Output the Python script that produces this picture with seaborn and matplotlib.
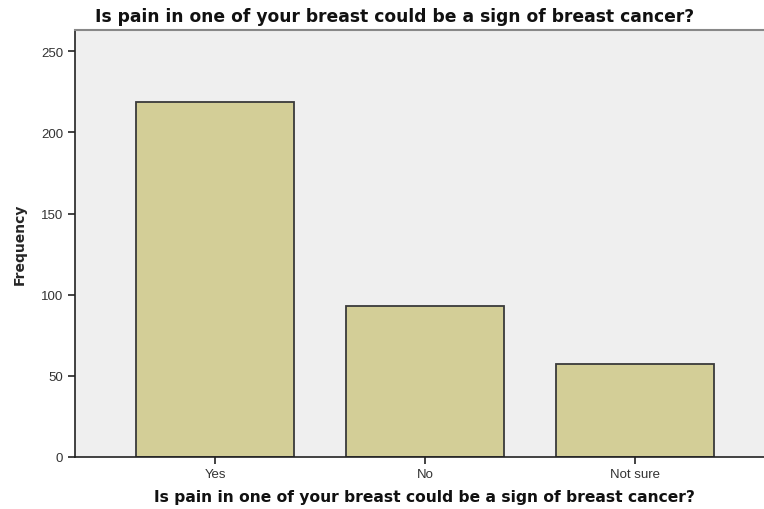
import numpy as np
import pandas as pd
import matplotlib
matplotlib.use("Agg")
import matplotlib.pyplot as plt
import seaborn as sns

# answers and counts
answers = ["Yes", "No", "Not sure"]
counts = [219, 93, 57]
question = "Is pain in one of your breast could be a sign of breast cancer?"

df = pd.DataFrame({"Answer": answers, "Frequency": counts})

sns.set_style("white")
plt.rcParams["font.family"] = ["DejaVu Sans"]

fig = plt.figure(figsize=(7.64, 5.10), dpi=100)
ax = fig.add_axes([0.0982, 0.102, 0.9018, 0.837])
ax.set_facecolor("#efefef")

sns.barplot(
    data=df,
    x="Answer",
    y="Frequency",
    color="#d3ce97",
    saturation=1,
    width=0.752,
    linewidth=1.3,
    edgecolor="#3a3a3a",
    ax=ax,
)

ax.set_xlim(-0.667, 2.614)
ax.set_ylim(0, 263)
ax.set_yticks([0, 50, 100, 150, 200, 250])

for side in ["left", "bottom"]:
    ax.spines[side].set_color("#222222")
    ax.spines[side].set_linewidth(1.2)
ax.spines["top"].set_color("#888888")
ax.spines["top"].set_linewidth(1.5)
ax.spines["right"].set_visible(False)

ax.tick_params(axis="both", direction="out", length=5, width=1.2, color="#222222",
               labelsize=9.5, labelcolor="#333333", left=True, bottom=True)
ax.tick_params(axis="x", pad=3)
for lab in ax.get_xticklabels() + ax.get_yticklabels():
    lab.set_family("Liberation Sans")

ax.set_xlabel("")
ax.set_ylabel("Frequency", fontsize=10, fontweight="bold", labelpad=10)
fig.text(0.5556, 0.025, question, ha="center", va="center",
         fontsize=11.2, fontweight="bold", color="#111111")
fig.text(0.517, 0.966, question, ha="center", va="center",
         fontsize=12.3, fontweight="bold", color="#111111")

fig.savefig("out.png", dpi=100)
